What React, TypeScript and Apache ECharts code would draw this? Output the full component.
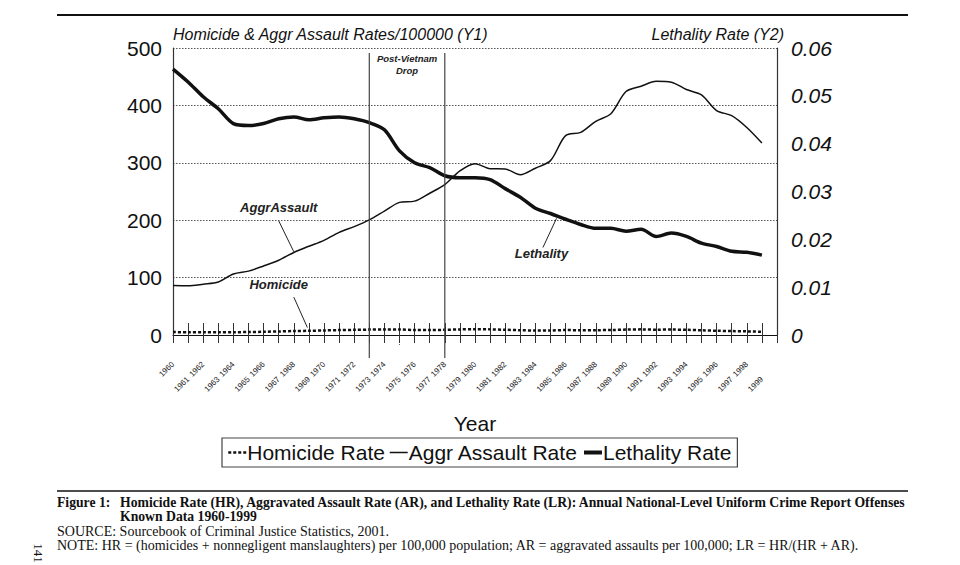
import { useEffect, useRef } from 'react';
import * as echarts from 'echarts';

// ---------------------------------------------------------------------------
// Data (UCR, per 100,000 population; lethality)
// ---------------------------------------------------------------------------

const years = [
  1960, 1961, 1962, 1963, 1964, 1965, 1966, 1967, 1968, 1969,
  1970, 1971, 1972, 1973, 1974, 1975, 1976, 1977, 1978, 1979,
  1980, 1981, 1982, 1983, 1984, 1985, 1986, 1987, 1988, 1989,
  1990, 1991, 1992, 1993, 1994, 1995, 1996, 1997, 1998, 1999,
];

const homicideRate = [
  5.1, 4.8, 4.6, 4.6, 4.9, 5.1, 5.6, 6.2, 6.9, 7.3,
  7.9, 8.6, 9.0, 9.4, 9.8, 9.6, 8.8, 8.8, 9.0, 9.7,
  10.2, 9.8, 9.1, 8.3, 7.9, 7.9, 8.6, 8.3, 8.4, 8.7,
  9.4, 9.8, 9.3, 9.5, 9.0, 8.2, 7.4, 6.8, 6.3, 5.7,
];

const aggrAssaultRate = [
  86.1, 85.7, 88.6, 92.4, 106.2, 111.3, 120.3, 130.2, 143.8, 154.5,
  164.8, 178.8, 188.8, 200.5, 215.8, 231.1, 233.2, 247.0, 262.1, 286.0,
  298.5, 289.7, 289.2, 279.2, 290.6, 303.8, 347.4, 352.9, 372.2, 385.6,
  424.1, 433.4, 441.9, 440.5, 427.6, 418.3, 391.0, 382.1, 361.4, 334.3,
];

const lethalityRate = [
  0.0556, 0.0529, 0.0498, 0.0473, 0.0442, 0.0438, 0.0442, 0.0452, 0.0456, 0.045,
  0.0454, 0.0456, 0.0452, 0.0444, 0.0429, 0.0385, 0.036, 0.035, 0.0333, 0.0329,
  0.0329, 0.0325, 0.0306, 0.0288, 0.0265, 0.0254, 0.0242, 0.0231, 0.0223, 0.0223,
  0.0217, 0.0221, 0.0206, 0.0213, 0.0206, 0.0192, 0.0185, 0.0175, 0.0173, 0.0167,
];

const dropYears = [1973, 1978];

const SANS = "'Liberation Sans', Arial, sans-serif";
const SERIF = "'Liberation Serif', 'Times New Roman', serif";
const INK = '#111';

// ---------------------------------------------------------------------------
// Option
// ---------------------------------------------------------------------------

function pairs(values: number[]) {
  return years.map((y, i) => [y, values[i]]);
}

// two stacked axes on the same line: even years on one row, odd years lower
function yearAxis(odd: boolean): any {
  return {
    type: 'value',
    position: 'bottom',
    min: 1960,
    max: 2000,
    interval: 1,
    axisLine: { show: !odd, lineStyle: { color: INK, width: 1.2 } },
    axisTick: odd
      ? { show: true, inside: true, length: 12, lineStyle: { color: '#333', width: 1 } }
      : { show: true, inside: false, length: 8, lineStyle: { color: '#333', width: 1 } },
    splitLine: { show: false },
    axisLabel: {
      rotate: 45,
      margin: odd ? 43 : 28,
      fontSize: 8,
      fontFamily: SANS,
      color: '#222',
      formatter: (v: number) =>
        v < 2000 && (v % 2 === 1) === odd ? String(v) : '',
    },
    name: odd ? '' : 'Year',
    nameLocation: 'middle',
    nameGap: 78,
    nameTextStyle: { fontSize: 21, fontFamily: SANS, color: INK },
  };
}

function buildOption(): echarts.EChartsOption {
  return {
    animation: false,
    backgroundColor: '#fff',
    grid: { left: 173, right: 183, top: 48, bottom: 230 },
    xAxis: [yearAxis(false), yearAxis(true)],
    yAxis: [
      {
        type: 'value',
        min: 0,
        max: 500,
        interval: 100,
        position: 'left',
        axisLine: { show: true, lineStyle: { color: '#333', width: 1.2 } },
        axisTick: { show: false },
        axisLabel: { fontSize: 21, fontFamily: SANS, color: INK, margin: 11 },
        splitLine: { show: true, lineStyle: { color: '#555', type: [1.5, 1.5], width: 1 } },
        name: 'Homicide & Aggr Assault Rates/100000 (Y1)',
        nameLocation: 'end',
        nameGap: 6,
        nameTextStyle: {
          fontSize: 16, fontFamily: SANS, fontStyle: 'italic', color: INK,
          align: 'left', verticalAlign: 'bottom',
        },
      },
      {
        type: 'value',
        min: 0,
        max: 0.06,
        interval: 0.01,
        position: 'right',
        axisLine: { show: true, lineStyle: { color: '#333', width: 1.2 } },
        axisTick: { show: false },
        splitLine: { show: false },
        axisLabel: {
          fontSize: 21, fontFamily: SANS, fontStyle: 'italic', color: INK, margin: 14,
          formatter: (v: number) => (v === 0 ? '0' : v.toFixed(2)),
        },
        name: 'Lethality Rate (Y2)',
        nameLocation: 'end',
        nameGap: 6,
        nameTextStyle: {
          fontSize: 16, fontFamily: SANS, fontStyle: 'italic', color: INK,
          align: 'right', verticalAlign: 'bottom', padding: [0, -7, 0, 0],
        },
      },
    ],
    legend: {
      left: 222,
      top: 438,
      padding: [4, 6, 4, 5],
      borderColor: '#444',
      borderWidth: 1.2,
      itemGap: 4,
      itemWidth: 18,
      itemHeight: 14,
      itemStyle: { color: 'rgba(0,0,0,0)', borderWidth: 0 },
      textStyle: { fontSize: 21, fontFamily: SANS, color: INK, padding: [0, 0, 0, -4] },
      data: [
        { name: 'Homicide Rate', lineStyle: { width: 2.5 } },
        { name: 'Aggr Assault Rate', lineStyle: { width: 1.5 } },
        { name: 'Lethality Rate', lineStyle: { width: 4 } },
      ],
    },
    series: [
      {
        name: 'Homicide Rate',
        type: 'line',
        data: pairs(homicideRate),
        symbol: 'none',
        smooth: 0.3,
        lineStyle: { color: INK, width: 2.5, type: [3, 2] },
        itemStyle: { color: INK },
        z: 3,
      },
      {
        name: 'Aggr Assault Rate',
        type: 'line',
        data: pairs(aggrAssaultRate),
        symbol: 'none',
        smooth: 0.3,
        lineStyle: { color: INK, width: 1.5 },
        itemStyle: { color: INK },
        z: 3,
      },
      {
        name: 'Lethality Rate',
        type: 'line',
        yAxisIndex: 1,
        data: pairs(lethalityRate),
        symbol: 'none',
        smooth: 0.3,
        lineStyle: { color: INK, width: 3.5 },
        itemStyle: { color: INK },
        z: 4,
      },
    ],
  };
}

// ---------------------------------------------------------------------------
// Annotations & caption (positions derived from the axes where they refer to data)
// ---------------------------------------------------------------------------

function buildGraphics(chart: echarts.ECharts): any[] {
  const px = (x: number, y: number) =>
    chart.convertToPixel({ xAxisIndex: 0, yAxisIndex: 0 }, [x, y]) as number[];
  const px2 = (x: number, y: number) =>
    chart.convertToPixel({ xAxisIndex: 0, yAxisIndex: 1 }, [x, y]) as number[];
  const [, top] = px(1960, 500);
  const [, base] = px(1960, 0);

  const label = (text: string, p: number[]) => ({
    type: 'text',
    x: p[0],
    y: p[1],
    style: {
      text, fontSize: 13, fontFamily: SANS, fontWeight: 'bold', fontStyle: 'italic',
      fill: '#222', align: 'center', verticalAlign: 'middle',
    },
  });
  const leader = (a: number[], b: number[]) => ({
    type: 'line',
    shape: { x1: a[0], y1: a[1], x2: b[0], y2: b[1] },
    style: { stroke: '#222', lineWidth: 1 },
  });

  const g: any[] = [];
  dropYears.forEach((yr) => {
    const [x] = px(yr, 0);
    g.push({
      type: 'line',
      shape: { x1: x, y1: top + 5, x2: x, y2: base + 23 },
      style: { stroke: '#444', lineWidth: 1.2 },
      z: 5,
    });
  });
  // dotted tick at 1975
  const [x75] = px(1975, 0);
  g.push({
    type: 'line',
    shape: { x1: x75, y1: base - 12, x2: x75, y2: base + 10 },
    style: { stroke: '#666', lineWidth: 1, lineDash: [1.5, 1.5] },
  });
  const mid = (px(dropYears[0], 0)[0] + px(dropYears[1], 0)[0]) / 2;
  g.push({
    type: 'text', x: mid, y: top + 4,
    style: {
      text: 'Post-Vietnam\nDrop', fontSize: 9.5, lineHeight: 12, fontFamily: SANS,
      fontWeight: 'bold', fontStyle: 'italic', fill: '#222', align: 'center', verticalAlign: 'top',
    },
  });

  g.push(label('AggrAssault', px(1967, 222)));
  g.push(leader(px(1967, 199), px(1968, 145)));
  g.push(label('Homicide', px(1967, 88)));
  g.push(leader(px(1968, 66), px(1968.9, 13)));
  g.push(label('Lethality', px2(1984.4, 0.0171)));
  g.push(leader(px2(1984.5, 0.0183), px2(1985.4, 0.0244)));

  // page furniture
  g.push({ type: 'line', shape: { x1: 57, y1: 15, x2: 908, y2: 15 }, style: { stroke: INK, lineWidth: 2 } });
  g.push({ type: 'line', shape: { x1: 57, y1: 491, x2: 908, y2: 491 }, style: { stroke: INK, lineWidth: 1.5 } });
  const cap = (text: string, x: number, y: number, bold: boolean) => ({
    type: 'text', x, y,
    style: {
      text, fontSize: bold ? 13.7 : 14, fontFamily: SERIF, fontWeight: bold ? 'bold' : 'normal',
      fill: INK, align: 'left', verticalAlign: 'middle',
    },
  });
  g.push(cap('Figure 1:', 57, 502, true));
  g.push(cap('Homicide Rate (HR), Aggravated Assault Rate (AR), and Lethality Rate (LR): Annual National-Level Uniform Crime Report Offenses', 120, 502, true));
  g.push(cap('Known Data 1960-1999', 120, 516, true));
  g.push(cap('SOURCE: Sourcebook of Criminal Justice Statistics, 2001.', 57, 531, false));
  g.push(cap('NOTE: HR = (homicides + nonnegligent manslaughters) per 100,000 population; AR = aggravated assaults per 100,000; LR = HR/(HR + AR).', 57, 545, false));
  g.push({
    type: 'text', x: 38, y: 553, rotation: -Math.PI / 2,
    style: { text: '141', fontSize: 13, fontFamily: SERIF, fill: INK, align: 'center', verticalAlign: 'middle' },
  });
  return g;
}

// ---------------------------------------------------------------------------
// Component
// ---------------------------------------------------------------------------

export default function App() {
  const ref = useRef<HTMLDivElement | null>(null);

  useEffect(() => {
    if (!ref.current) return;
    const chart = echarts.init(ref.current, null, { renderer: 'svg' });
    chart.setOption(buildOption());
    chart.setOption({ graphic: buildGraphics(chart) });
    return () => chart.dispose();
  }, []);

  return (
    <div
      ref={ref}
      style={{ position: 'fixed', left: 0, top: 0, width: 960, height: 565, background: '#fff' }}
    />
  );
}
